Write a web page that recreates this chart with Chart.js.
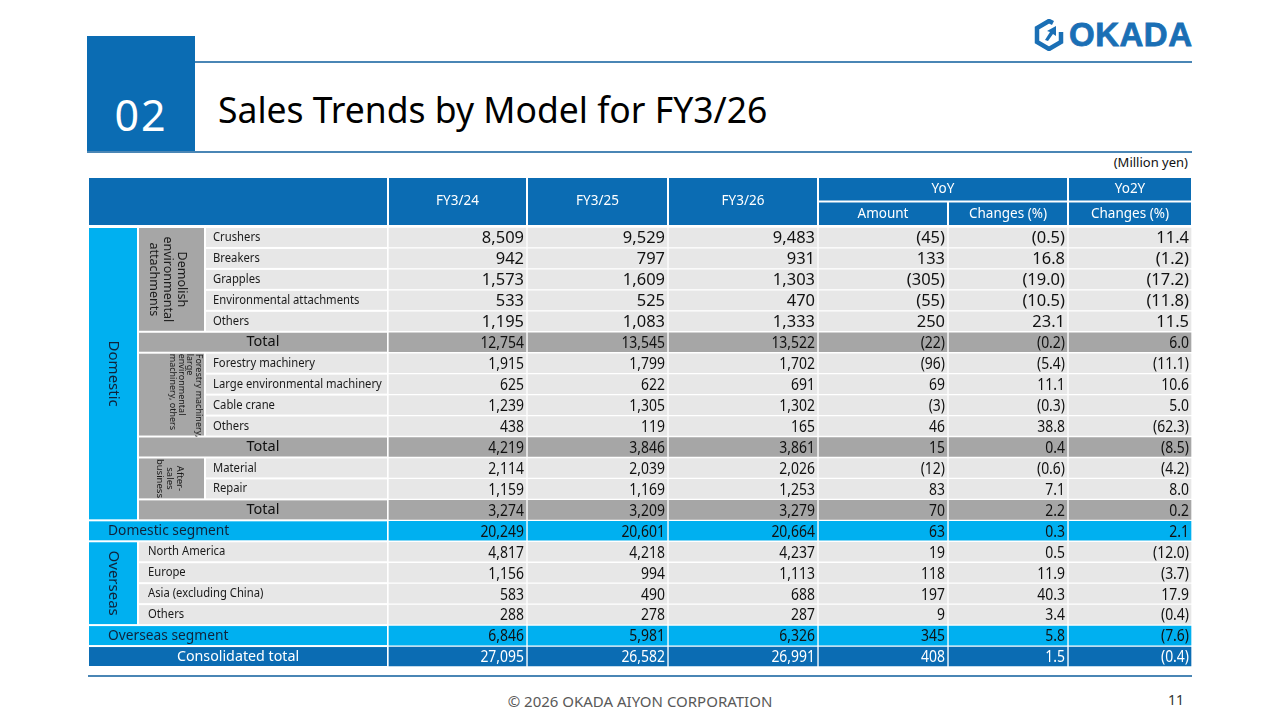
<!DOCTYPE HTML>
<html lang="en">

<head>
    <meta charset="UTF-8">
    <title>Sales Trends by Model for FY3/26</title>
    <script src="https://cdn.jsdelivr.net/npm/chart.js@4.4.0/dist/chart.umd.min.js"></script>
    <style>
        body { margin: 0; width: 1280px; height: 720px; position: relative; background: #fff; font-family: "Noto Sans", sans-serif; overflow: hidden; }
        .abs { position: absolute; }
        #numbox { left: 87px; top: 36px; width: 108px; height: 117px; background: #0b6cb3; color: #fff; font-size: 43px; letter-spacing: 2px; line-height: 43px; text-align: center; padding-top: 57px; box-sizing: border-box; }
        .rule { height: 2px; background: #4a86b5; }
        #title { left: 218px; top: 85px; font-size: 35.5px; color: #000; white-space: nowrap; }
        #unit { right: 92px; top: 153px; font-size: 13px; color: #111; }
        #wrap { left: 88px; top: 176px; width: 1104px; height: 494px; }
        #footer { left: 0; width: 1280px; top: 691px; text-align: center; font-size: 15px; color: #595959; }
        #page { left: 1168px; top: 690px; font-size: 14px; color: #333; }
        #logo { left: 1034px; top: 16px; display: flex; align-items: center; }
        #logo span { font-family: "Liberation Sans", sans-serif; font-weight: bold; font-size: 33px; color: #1a6fb5; margin-left: 5px; letter-spacing: 0.5px; -webkit-text-stroke: 0.8px #1a6fb5; }
    </style>
</head>

<body>
    <div id="numbox" class="abs">02</div>
    <div class="abs rule" style="left:195px; top:61px; width:997px;"></div>
    <div class="abs rule" style="left:87px; top:151px; width:1105px;"></div>
    <div id="title" class="abs">Sales Trends by Model for FY3/26</div>
    <div id="logo" class="abs">
        <svg width="30" height="32" viewBox="0 0 30 32">
            <path d="M19 4 L15 2 L3 9 L3 23 L15 30 L27 23 L27 13" fill="none" stroke="#1a6fb5" stroke-width="4.5" stroke-linejoin="miter"/>
            <path d="M11 21 L16 13 L13 12 L22 7 L22 17 L19 15 L14 22 Z" fill="#1a6fb5"/>
        </svg>
        <span>OKADA</span>
    </div>
    <div id="unit" class="abs">(Million yen)</div>

    <div id="wrap" class="abs">
        <canvas id="canvas"></canvas>
    </div>
    <div class="abs rule" style="left:88px; top:675px; width:1104px;"></div>
    <div id="footer" class="abs">© 2026 OKADA AIYON CORPORATION</div>
    <div id="page" class="abs">11</div>

    <script>
        // row labels, top to bottom
        var rowLabels = [
            'Crushers', 'Breakers', 'Grapples', 'Environmental attachments', 'Others', 'Total',
            'Forestry machinery', 'Large environmental machinery', 'Cable crane', 'Others', 'Total',
            'Material', 'Repair', 'Total', 'Domestic segment',
            'North America', 'Europe', 'Asia (excluding China)', 'Others', 'Overseas segment',
            'Consolidated total'
        ];
        var columnLabels = ['FY3/24', 'FY3/25', 'FY3/26', 'Amount', 'Changes (%)', 'Changes (%)'];
        var headerGroups = ['YoY', 'Yo2Y'];
        var regionLabels = ['Domestic', 'Overseas'];
        var groupLabels = [
            ['Demolish', 'environmental', 'attachments'],
            ['Forestry machinery,', 'large', 'environmental', 'machinery, others'],
            ['After-', 'sales', 'business']
        ];

        // million yen
        var fy24 = [8509, 942, 1573, 533, 1195, 12754, 1915, 625, 1239, 438, 4219, 2114, 1159, 3274, 20249, 4817, 1156, 583, 288, 6846, 27095];
        var fy25 = [9529, 797, 1609, 525, 1083, 13545, 1799, 622, 1305, 119, 3846, 2039, 1169, 3209, 20601, 4218, 994, 490, 278, 5981, 26582];
        var fy26 = [9483, 931, 1303, 470, 1333, 13522, 1702, 691, 1302, 165, 3861, 2026, 1253, 3279, 20664, 4237, 1113, 688, 287, 6326, 26991];
        var yoyAmount = [-45, 133, -305, -55, 250, -22, -96, 69, -3, 46, 15, -12, 83, 70, 63, 19, 118, 197, 9, 345, 408];
        var yoyPct = [-0.5, 16.8, -19.0, -10.5, 23.1, -0.2, -5.4, 11.1, -0.3, 38.8, 0.4, -0.6, 7.1, 2.2, 0.3, 0.5, 11.9, 40.3, 3.4, 5.8, 1.5];
        var yo2yPct = [11.4, -1.2, -17.2, -11.8, 11.5, 6.0, -11.1, 10.6, 5.0, -62.3, -8.5, -4.2, 8.0, 0.2, 2.1, -12.0, -3.7, 17.9, -0.4, -7.6, -0.4];

        // layout / style
        var colEdges = [0, 300, 439, 580, 730, 860, 980, 1104];
        var rowKind = ['item', 'item', 'item', 'item', 'item', 'total',
            'item', 'item', 'item', 'item', 'total',
            'item', 'item', 'total', 'segment',
            'oitem', 'oitem', 'oitem', 'oitem', 'segment', 'grand'];
        var fill = { item: '#e7e7e7', oitem: '#e7e7e7', total: '#a6a6a6', segment: '#00b0f0', grand: '#0b6cb3' };
        var regionSpans = [[0, 13], [15, 18]];
        var groupSpans = [[0, 4], [6, 9], [11, 12]];
        var groupStyle = [
            { size: 12.5, lh: 14, dx: -4, top: false },
            { size: 9, lh: 8.6, dx: 14, top: true },
            { size: 9.5, lh: 10, dx: -2, top: false }
        ];
        var SANS = '"Noto Sans", "Open Sans", sans-serif';

        function fmtInt(v) {
            var s = Math.abs(v).toLocaleString('en-US');
            return v < 0 ? '(' + s + ')' : s;
        }
        function fmtPct(v) {
            var s = Math.abs(v).toFixed(1);
            return v < 0 ? '(' + s + ')' : s;
        }
        var columns = [fy24, fy25, fy26, yoyAmount, yoyPct, yo2yPct];
        var formats = [fmtInt, fmtInt, fmtInt, fmtInt, fmtPct, fmtPct];

        // text with optional horizontal squeeze
        function drawText(ctx, s, x, y, font, color, align, sx) {
            ctx.save();
            ctx.font = font;
            ctx.fillStyle = color;
            ctx.textAlign = align || 'left';
            ctx.textBaseline = 'middle';
            ctx.translate(x, y);
            ctx.scale(sx || 1, 1);
            ctx.fillText(s, 0, 0);
            ctx.restore();
        }

        var tablePlugin = {
            id: 'tableCells',
            beforeDatasetsDraw: function (chart) {
                var ctx = chart.ctx, ys = chart.scales.y, xs = chart.scales.x;
                var rh = ys.getPixelForValue(1) - ys.getPixelForValue(0);
                var top = function (i) { return ys.getPixelForValue(i) - rh / 2; };
                var px = function (v) { return xs.getPixelForValue(v); };
                function cell(x0, x1, y0, y1, color) {
                    ctx.fillStyle = color;
                    ctx.fillRect(px(x0) + 1, y0 + 1, px(x1) - px(x0) - 2, y1 - y0 - 2);
                }
                function vtext(lines, cx, cy, size, lh, color, alignTop, h) {
                    ctx.save();
                    ctx.translate(cx, cy);
                    ctx.rotate(Math.PI / 2);
                    ctx.font = size + 'px ' + SANS;
                    ctx.fillStyle = color;
                    ctx.textAlign = alignTop ? 'left' : 'center';
                    ctx.textBaseline = 'middle';
                    var n = lines.length;
                    lines.forEach(function (l, k) {
                        ctx.fillText(l, alignTop ? -h / 2 + 1 : 0, (k - (n - 1) / 2) * lh);
                    });
                    ctx.restore();
                }

                // header
                var hTop = 1, hMid = 25.5, hBot = 50;
                var hc = '#0b6cb3', hf = '13.5px ' + SANS;
                cell(0, 300, hTop, hBot, hc);
                for (var c = 1; c <= 3; c++) {
                    cell(colEdges[c], colEdges[c + 1], hTop, hBot, hc);
                    drawText(ctx, columnLabels[c - 1], (px(colEdges[c]) + px(colEdges[c + 1])) / 2, (hTop + hBot) / 2, hf, '#fff', 'center');
                }
                cell(colEdges[4], colEdges[6], hTop, hMid, hc);
                drawText(ctx, headerGroups[0], (px(colEdges[4]) + px(colEdges[6])) / 2, (hTop + hMid) / 2, hf, '#fff', 'center');
                cell(colEdges[6], colEdges[7], hTop, hMid, hc);
                drawText(ctx, headerGroups[1], (px(colEdges[6]) + px(colEdges[7])) / 2, (hTop + hMid) / 2, hf, '#fff', 'center');
                for (c = 4; c <= 6; c++) {
                    cell(colEdges[c], colEdges[c + 1], hMid, hBot, hc);
                    drawText(ctx, columnLabels[c - 1], (px(colEdges[c]) + px(colEdges[c + 1])) / 2, (hMid + hBot) / 2, hf, '#fff', 'center');
                }

                // region cells
                regionSpans.forEach(function (sp, r) {
                    var y0 = top(sp[0]), y1 = top(sp[1] + 1);
                    cell(0, 50, y0, y1, fill.segment);
                    vtext([regionLabels[r]], (px(0) + px(50)) / 2, (y0 + y1) / 2, 15, 0, '#10233a');
                });
                // group cells
                groupSpans.forEach(function (sp, g) {
                    var y0 = top(sp[0]), y1 = top(sp[1] + 1), st = groupStyle[g];
                    cell(50, 117, y0, y1, '#a6a6a6');
                    vtext(groupLabels[g], (px(50) + px(117)) / 2 + st.dx, (y0 + y1) / 2, st.size, st.lh, '#1a1a1a', st.top, y1 - y0);
                });
                // row label cells
                rowLabels.forEach(function (lab, i) {
                    var k = rowKind[i], y0 = top(i), y1 = top(i + 1), cy = (y0 + y1) / 2;
                    if (k === 'item') {
                        cell(117, 300, y0, y1, fill.item);
                        drawText(ctx, lab, px(125), cy, '12.5px ' + SANS, '#1a1a1a', 'left', 0.9);
                    } else if (k === 'oitem') {
                        cell(50, 300, y0, y1, fill.item);
                        drawText(ctx, lab, px(60), cy, '12.5px ' + SANS, '#1a1a1a', 'left', 0.9);
                    } else if (k === 'total') {
                        cell(50, 300, y0, y1, fill.total);
                        drawText(ctx, lab, px(175), cy, '14.5px ' + SANS, '#111', 'center');
                    } else if (k === 'segment') {
                        cell(0, 300, y0, y1, fill.segment);
                        drawText(ctx, lab, px(20), cy, '14.5px ' + SANS, '#10233a', 'left', 0.95);
                    } else {
                        cell(0, 300, y0, y1, fill.grand);
                        drawText(ctx, lab, px(150), cy, '15px ' + SANS, '#fff', 'center', 0.95);
                    }
                });
            },
            afterDatasetsDraw: function (chart) {
                var ctx = chart.ctx;
                columns.forEach(function (vals, d) {
                    var meta = chart.getDatasetMeta(d);
                    meta.data.forEach(function (bar, i) {
                        var p = bar.getProps(['x', 'base', 'y'], true);
                        var right = Math.max(p.x, p.base);
                        var color = rowKind[i] === 'grand' ? '#fff' : '#111';
                        if (i < 5) {
                            drawText(ctx, formats[d](vals[i]), right - 3, p.y + 1, '17px ' + SANS, color, 'right', 0.97);
                        } else {
                            drawText(ctx, formats[d](vals[i]), right - 3, p.y + 1, '17px ' + SANS, color, 'right', 0.82);
                        }
                    });
                });
            }
        };

        var datasets = columns.map(function (vals, d) {
            return {
                label: columnLabels[d],
                data: vals.map(function () { return [colEdges[d + 1], colEdges[d + 2]]; }),
                backgroundColor: rowKind.map(function (k) { return fill[k]; }),
                borderColor: '#ffffff',
                borderWidth: 1,
                borderSkipped: false,
                grouped: false,
                barPercentage: 1,
                categoryPercentage: 1
            };
        });

        var ctx = document.getElementById('canvas').getContext('2d');
        window.myChart = new Chart(ctx, {
            type: 'bar',
            data: {
                labels: rowLabels,
                datasets: datasets
            },
            options: {
                indexAxis: 'y',
                responsive: true,
                maintainAspectRatio: false,
                animation: false,
                layout: { padding: { top: 51, bottom: 3, left: 0, right: 0 } },
                plugins: {
                    legend: { display: false },
                    tooltip: { enabled: false }
                },
                scales: {
                    x: { type: 'linear', min: 0, max: 1104, display: false },
                    y: { display: false }
                }
            },
            plugins: [tablePlugin]
        });
    </script>
</body>

</html>
